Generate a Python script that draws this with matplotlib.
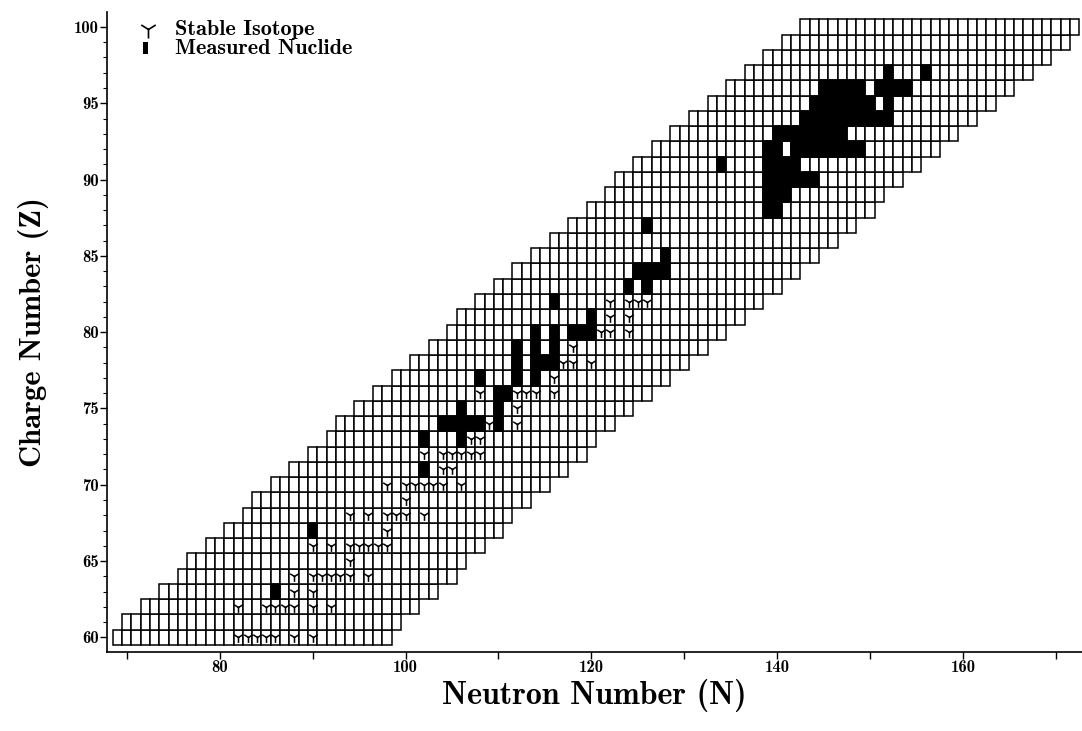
import matplotlib.pyplot as plt
import numpy as np

# charge number of each row of the chart and its neutron number range
Z_rows = list(range(60, 101))
N_first = [69, 70, 72, 74, 76, 77, 79, 81, 83, 84,
           86, 88, 90, 92, 93, 95, 97, 99, 101, 103,
           105, 106, 108, 110, 112, 114, 116, 118, 120, 122,
           123, 125, 127, 129, 131, 133, 135, 137, 139, 141,
           143]
N_last = [98, 99, 101, 103, 105, 106, 108, 110, 111, 113,
          115, 117, 119, 120, 122, 124, 126, 128, 130, 132,
          134, 136, 138, 140, 142, 144, 146, 148, 150, 151,
          153, 155, 157, 159, 161, 163, 165, 167, 169, 171,
          172]

# stable isotopes (Z, N)
stable_Z = [60]*7 + [62]*7 + [63]*2 + [64]*7 + [65] + [66]*7 + [67] + [68]*6 + [69] + \
           [70]*7 + [71]*2 + [72]*6 + [73]*2 + [74]*5 + [75]*2 + [76]*7 + [77]*2 + \
           [78]*6 + [79] + [80]*7 + [81]*2 + [82]*4 + [83]
stable_N = [82, 83, 84, 85, 86, 88, 90,
            82, 85, 86, 87, 88, 90, 92,
            88, 90,
            88, 90, 91, 92, 93, 94, 96,
            94,
            90, 92, 94, 95, 96, 97, 98,
            98,
            94, 96, 98, 99, 100, 102,
            100,
            98, 100, 101, 102, 103, 104, 106,
            104, 105,
            102, 104, 105, 106, 107, 108,
            107, 108,
            106, 108, 109, 110, 112,
            110, 112,
            108, 110, 111, 112, 113, 114, 116,
            114, 116,
            112, 114, 116, 117, 118, 120,
            118,
            116, 118, 119, 120, 121, 122, 124,
            122, 124,
            122, 124, 125, 126,
            126]

# measured nuclides (Z, N)
measured_Z = [63, 67, 71, 73, 74, 74, 74, 74, 74, 73, 75, 77,
              74, 75, 76, 76, 77, 78, 79,
              77, 78, 79, 80, 78, 78, 79, 80,
              80, 80, 80, 81, 82,
              87, 85, 84, 84, 84, 84, 83, 83,
              91, 88, 88, 89, 89, 89,
              90, 90, 90, 90, 90, 90,
              91, 91, 91, 91,
              92, 92, 92, 92, 92, 92, 92, 92, 92, 92,
              93, 93, 93, 93, 93, 93, 93, 93,
              94, 94, 94, 94, 94, 94, 94, 94, 94, 94,
              95, 95, 95, 95, 95, 95, 95, 95,
              96, 96, 96, 96, 96, 96, 96, 96, 96,
              97, 97]
measured_N = [86, 90, 102, 102, 104, 105, 106, 107, 108, 106, 106, 108,
              110, 110, 110, 111, 112, 112, 112,
              114, 114, 114, 114, 115, 116, 116, 116,
              118, 119, 120, 120, 116,
              126, 128, 125, 126, 127, 128, 124, 126,
              134, 139, 140, 139, 140, 141,
              139, 140, 141, 142, 143, 144,
              139, 140, 141, 142,
              139, 140, 142, 143, 144, 145, 146, 147, 148, 149,
              140, 141, 142, 143, 144, 145, 146, 147,
              143, 144, 145, 146, 147, 148, 149, 150, 151, 152,
              144, 145, 146, 147, 148, 149, 150, 152,
              145, 146, 147, 148, 149, 151, 152, 153, 154,
              152, 156]

SERIF = 'cmb10'

fig = plt.figure(figsize=(10.82, 7.31), dpi=100)
ax = fig.add_axes([0.0992, 0.1085, 0.9008, 0.8755])

# grid of nuclides
for z, n0, n1 in zip(Z_rows, N_first, N_last):
    ns = np.arange(n0, n1 + 1)
    ax.bar(ns, 1.0, bottom=z - 0.5, width=1.0, facecolor='white',
           edgecolor='black', linewidth=1.1, zorder=1)

ax.bar(measured_N, 1.0, bottom=np.array(measured_Z) - 0.5, width=1.0,
       facecolor='black', edgecolor='black', linewidth=1.1, zorder=2)

ax.scatter(stable_N, stable_Z, marker='1', s=60, color='black',
           linewidths=1.1, zorder=3)

# legend
ax.scatter([72.3], [99.85], marker='1', s=170, color='black', linewidths=1.2,
           clip_on=False)
ax.bar([72.0], 0.8, bottom=98.2, width=0.6, color='black')
ax.text(75.2, 99.85, 'Stable Isotope', fontfamily=SERIF, fontsize=16,
        va='center', ha='left')
ax.text(75.2, 98.6, 'Measured Nuclide', fontfamily=SERIF, fontsize=16,
        va='center', ha='left')

ax.set_xlim(67.91, 172.8)
ax.set_ylim(59.06, 101.0)

ax.set_xticks(np.arange(80, 161, 20))
ax.set_xticks(np.arange(70, 171, 10), minor=True)
ax.set_yticks(np.arange(60, 101, 5))
ax.set_yticks(np.arange(60, 101, 1), minor=True)
ax.tick_params(axis='x', which='both', direction='out', length=5, width=1.0,
               labelsize=12, pad=1)
ax.tick_params(axis='y', which='major', direction='out', length=5, width=1.0,
               labelsize=12, pad=1)
ax.tick_params(axis='y', which='minor', direction='out', length=3, width=0.8)
for lab in ax.get_xticklabels() + ax.get_yticklabels():
    lab.set_fontfamily(SERIF)

ax.spines['top'].set_visible(False)
ax.spines['right'].set_visible(False)
ax.spines['left'].set_linewidth(1.2)
ax.spines['bottom'].set_linewidth(1.2)

ax.set_xlabel('Neutron Number (N)', fontfamily=SERIF, fontsize=23, labelpad=3)
ax.set_ylabel('Charge Number (Z)', fontfamily=SERIF, fontsize=22, labelpad=18)

fig.savefig('out.png', dpi=100)
